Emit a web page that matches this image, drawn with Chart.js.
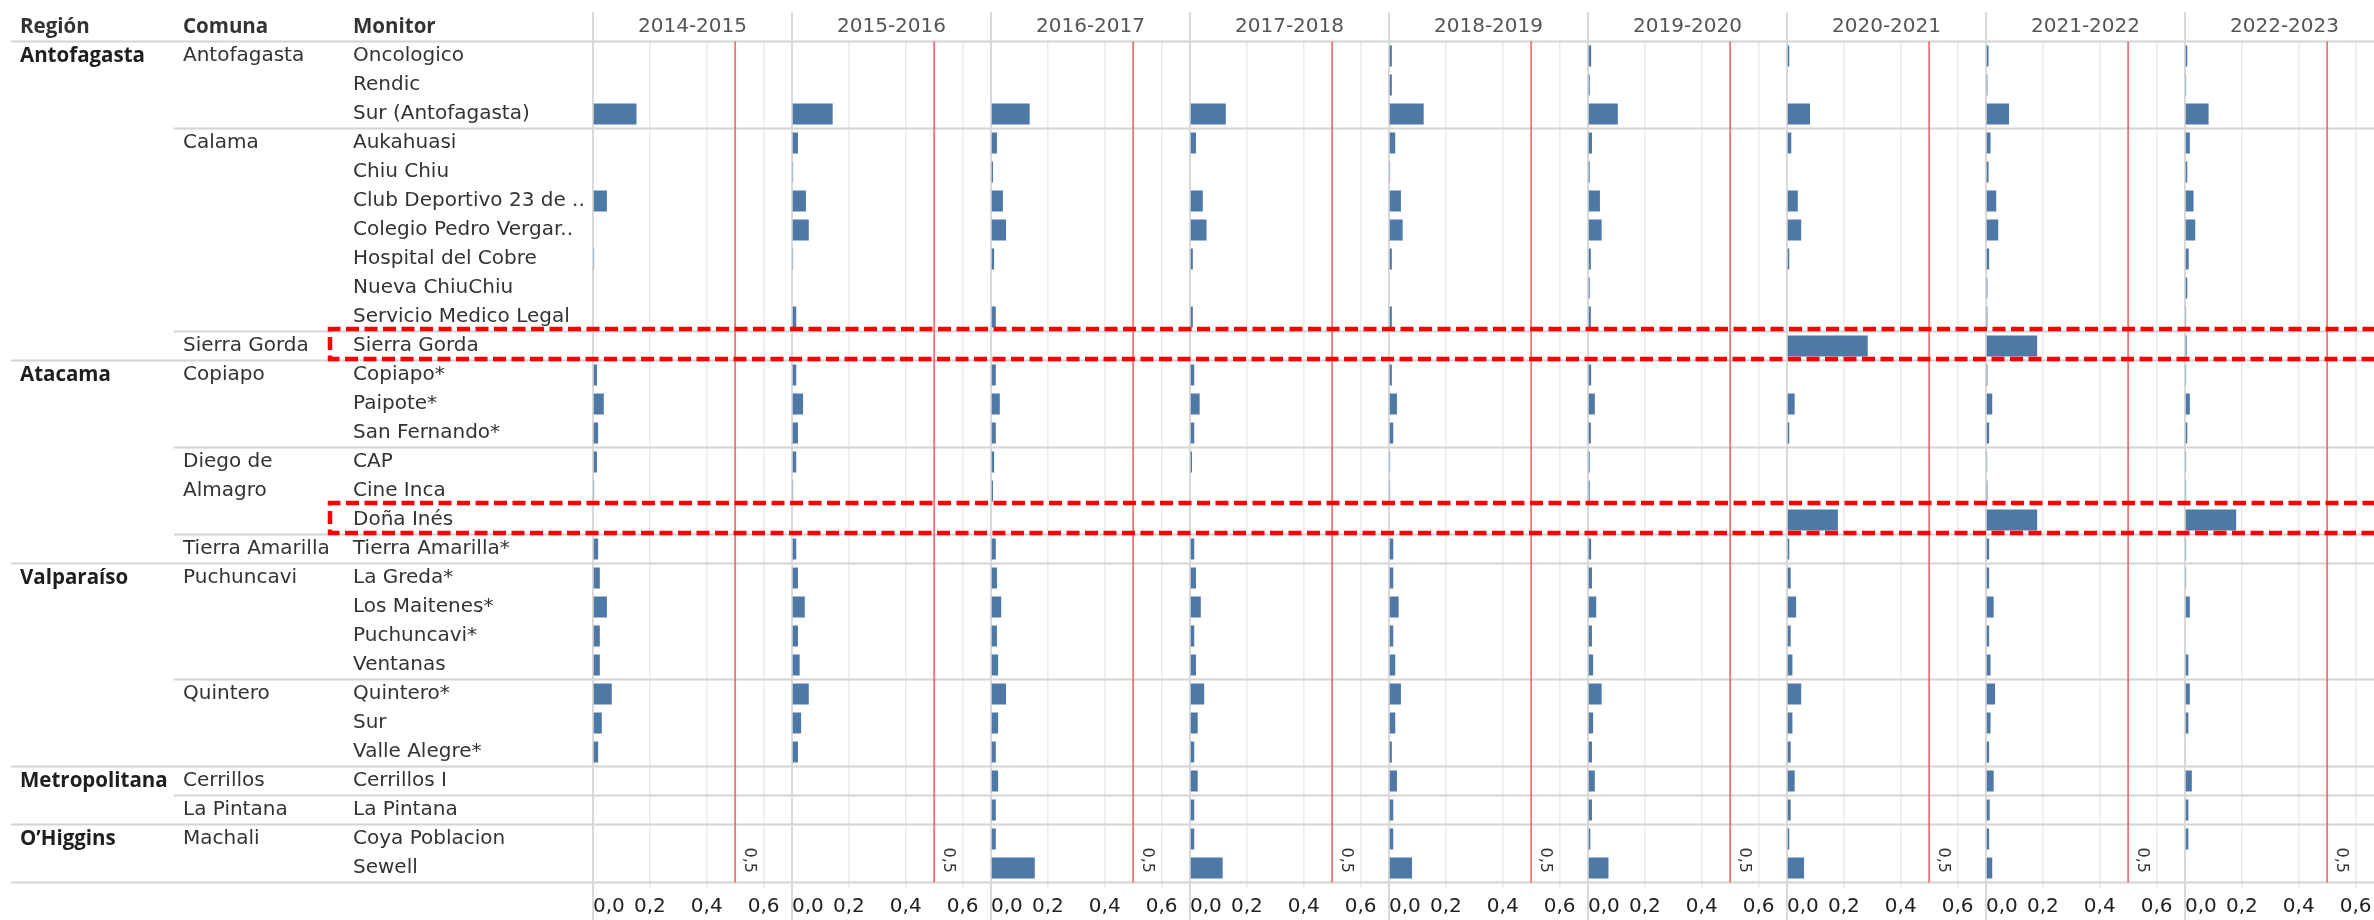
<!DOCTYPE html>
<html>
<head>
<meta charset="utf-8">
<script src="https://cdn.jsdelivr.net/npm/chart.js@4.4.1/dist/chart.umd.min.js"></script>
<style>
  html, body { margin: 0; padding: 0; background: #fff; overflow: hidden; }
  #wrap { position: relative; width: 2384px; height: 920px; }
</style>
</head>
<body>
<div id="wrap"><canvas id="chart" width="2384" height="920"></canvas></div>
<script>
// columnas de la tabla
const columnHeaders = ["Región", "Comuna", "Monitor"];
const years = ["2014-2015", "2015-2016", "2016-2017", "2017-2018", "2018-2019",
  "2019-2020", "2020-2021", "2021-2022", "2022-2023"];

const regions = [
  "Antofagasta", "Antofagasta", "Antofagasta", "Antofagasta", "Antofagasta", "Antofagasta",
  "Antofagasta", "Antofagasta", "Antofagasta", "Antofagasta", "Antofagasta",
  "Atacama", "Atacama", "Atacama", "Atacama", "Atacama", "Atacama", "Atacama",
  "Valparaíso", "Valparaíso", "Valparaíso", "Valparaíso", "Valparaíso", "Valparaíso", "Valparaíso",
  "Metropolitana", "Metropolitana",
  "O’Higgins", "O’Higgins"
];
const comunas = [
  "Antofagasta", "Antofagasta", "Antofagasta",
  "Calama", "Calama", "Calama", "Calama", "Calama", "Calama", "Calama",
  "Sierra Gorda",
  "Copiapo", "Copiapo", "Copiapo",
  "Diego de Almagro", "Diego de Almagro", "Diego de Almagro",
  "Tierra Amarilla",
  "Puchuncavi", "Puchuncavi", "Puchuncavi", "Puchuncavi",
  "Quintero", "Quintero", "Quintero",
  "Cerrillos", "La Pintana",
  "Machali", "Machali"
];
const monitors = [
  "Oncologico", "Rendic", "Sur (Antofagasta)",
  "Aukahuasi", "Chiu Chiu", "Club Deportivo 23 de ..", "Colegio Pedro Vergar..",
  "Hospital del Cobre", "Nueva ChiuChiu", "Servicio Medico Legal",
  "Sierra Gorda",
  "Copiapo*", "Paipote*", "San Fernando*",
  "CAP", "Cine Inca", "Doña Inés",
  "Tierra Amarilla*",
  "La Greda*", "Los Maitenes*", "Puchuncavi*", "Ventanas",
  "Quintero*", "Sur", "Valle Alegre*",
  "Cerrillos I", "La Pintana",
  "Coya Poblacion", "Sewell"
];

// valores por temporada (mismo orden que monitors)
const v2014 = [null, null, 0.153, null, null, 0.049, null, 0.004, null, null, null,
  0.014, 0.038, 0.018, 0.014, 0.004, null, 0.018,
  0.024, 0.049, 0.024, 0.024, 0.066, 0.031, 0.018, null, null, null, null];
const v2015 = [null, null, 0.143, 0.021, 0.004, 0.049, 0.059, 0.004, null, 0.015, null,
  0.015, 0.039, 0.021, 0.015, 0.004, null, 0.015,
  0.021, 0.045, 0.021, 0.027, 0.059, 0.032, 0.021, null, null, null, null];
const v2016 = [null, null, 0.136, 0.021, 0.007, 0.042, 0.053, 0.011, null, 0.017, null,
  0.017, 0.031, 0.017, 0.011, 0.007, null, 0.017,
  0.021, 0.036, 0.021, 0.025, 0.053, 0.025, 0.017, 0.025, 0.017, 0.017, 0.154];
const v2017 = [null, null, 0.126, 0.021, null, 0.045, 0.058, 0.010, null, 0.010, null,
  0.015, 0.034, 0.015, 0.007, null, null, 0.015,
  0.021, 0.038, 0.015, 0.021, 0.050, 0.027, 0.015, 0.027, 0.015, 0.015, 0.115];
const v2018 = [0.010, 0.010, 0.122, 0.022, 0.004, 0.042, 0.048, 0.010, null, 0.010, null,
  0.010, 0.028, 0.015, 0.004, 0.004, null, 0.015,
  0.015, 0.034, 0.015, 0.022, 0.042, 0.022, 0.010, 0.028, 0.015, 0.015, 0.081];
const v2019 = [0.011, 0.006, 0.105, 0.014, 0.006, 0.042, 0.048, 0.010, 0.006, 0.010, null,
  0.011, 0.024, 0.010, 0.006, 0.006, null, 0.011,
  0.014, 0.029, 0.014, 0.018, 0.048, 0.018, 0.014, 0.024, 0.014, 0.008, 0.072];
const v2020 = [0.008, null, 0.081, 0.015, null, 0.038, 0.050, 0.008, null, null, 0.284,
  null, 0.027, 0.008, null, null, 0.179, 0.008,
  0.013, 0.032, 0.013, 0.019, 0.050, 0.019, 0.013, 0.027, 0.013, 0.008, 0.060];
const v2021 = [0.009, 0.005, 0.081, 0.016, 0.009, 0.036, 0.043, 0.011, 0.005, 0.005, 0.180,
  0.005, 0.022, 0.011, 0.004, 0.005, 0.180, 0.011,
  0.011, 0.027, 0.011, 0.016, 0.032, 0.016, 0.011, 0.027, 0.013, 0.011, 0.022];
const v2022 = [0.008, 0.004, 0.083, 0.017, 0.008, 0.030, 0.036, 0.013, 0.008, 0.004, 0.006,
  0.004, 0.017, 0.008, 0.004, 0.004, 0.180, 0.004,
  0.004, 0.017, 0.003, 0.012, 0.017, 0.012, 0.003, 0.024, 0.012, 0.012, 0.003];
const seasonValues = [v2014, v2015, v2016, v2017, v2018, v2019, v2020, v2021, v2022];

const tickValues = [0, 0.2, 0.4, 0.6];
const tickLabels = ["0,0", "0,2", "0,4", "0,6"];
const axisMax = 0.7;
const refValue = 0.5;
const refLabel = "0,5";
const highlighted = ["Sierra Gorda", "Doña Inés"];

const FONT = "DejaVu Sans";
const BOLD = "bold 20.5px 'Open Sans'";
const lineGray = "#d4d4d4";

// ejes x, uno por temporada, apilados lado a lado
const xScales = {};
years.forEach((yr, i) => {
  xScales["x" + i] = {
    type: "linear",
    position: "bottom",
    stack: "seasons",
    stackWeight: 1,
    min: 0,
    max: axisMax,
    afterBuildTicks: (s) => {
      s.ticks = tickValues.concat([axisMax]).map((v) => ({ value: v }));
    },
    afterFit: (s) => {
      s.height = 37.5;
      s.paddingLeft = 0;
      s.paddingRight = 0;
    },
    grid: {
      color: (c) => (c.tick && c.tick.value > 0 && c.tick.value < axisMax ? "#ebebeb" : "rgba(0,0,0,0)"),
      lineWidth: 1.5,
      tickLength: 6,
    },
    border: { display: false },
    ticks: {
      align: "inner",
      padding: 6.5,
      autoSkip: false,
      maxRotation: 0,
      color: "#222",
      font: { family: FONT, size: 20 },
      callback: (v) => {
        const k = tickValues.findIndex((t) => Math.abs(t - v) < 1e-9);
        return k >= 0 ? tickLabels[k] : "";
      },
    },
  };
});

const framePlugin = {
  id: "frame",
  beforeDatasetsDraw(chart) {
    const { ctx, chartArea, scales } = chart;
    const y = scales.y;
    const half = (y.getPixelForValue(1) - y.getPixelForValue(0)) / 2;
    const W = chart.width;
    ctx.save();
    ctx.lineWidth = 2;
    ctx.strokeStyle = lineGray;
    const hline = (x0, yy) => {
      ctx.beginPath();
      ctx.moveTo(x0, yy);
      ctx.lineTo(W, yy);
      ctx.stroke();
    };
    hline(11, chartArea.top);
    for (let i = 1; i <= monitors.length; i++) {
      const yy = y.getPixelForValue(i - 1) + half;
      if (i === monitors.length || regions[i] !== regions[i - 1]) hline(11, yy);
      else if (comunas[i] !== comunas[i - 1]) hline(174, yy);
    }
    years.forEach((yr, i) => {
      const xs = scales["x" + i];
      const x0 = xs.getPixelForValue(0);
      ctx.strokeStyle = "#d9d9d9";
      ctx.lineWidth = 2;
      ctx.beginPath();
      ctx.moveTo(x0, 12);
      ctx.lineTo(x0, chart.height);
      ctx.stroke();

      const xr = xs.getPixelForValue(refValue);
      ctx.strokeStyle = "rgba(230, 85, 85, 0.8)";
      ctx.lineWidth = 1.8;
      ctx.beginPath();
      ctx.moveTo(xr, chartArea.top);
      ctx.lineTo(xr, chartArea.bottom);
      ctx.stroke();
    });
    ctx.restore();
  },
  afterDraw(chart) {
    const { ctx, chartArea, scales } = chart;
    const y = scales.y;
    const half = (y.getPixelForValue(1) - y.getPixelForValue(0)) / 2;
    const colX = [20, 183, 353];
    ctx.save();
    ctx.textBaseline = "middle";
    ctx.textAlign = "left";

    // encabezados
    ctx.font = BOLD;
    ctx.fillStyle = "#333";
    columnHeaders.forEach((h, k) => ctx.fillText(h, colX[k], 27));
    ctx.font = "20px " + FONT;
    ctx.fillStyle = "#555";
    ctx.textAlign = "center";
    years.forEach((yr, i) => {
      const xs = scales["x" + i];
      ctx.fillText(yr, (xs.left + xs.right) / 2, 27);
    });
    ctx.textAlign = "left";

    // filas
    monitors.forEach((m, i) => {
      const yy = y.getPixelForValue(i);
      if (i === 0 || regions[i] !== regions[i - 1]) {
        ctx.font = BOLD;
        ctx.fillStyle = "#1e1e1e";
        ctx.fillText(regions[i], colX[0], yy);
      }
      ctx.font = "20px " + FONT;
      ctx.fillStyle = "#333";
      if (i === 0 || comunas[i] !== comunas[i - 1]) {
        // partir el nombre si no cabe en la columna
        const words = comunas[i].split(" ");
        const lines = [];
        let cur = "";
        words.forEach((w) => {
          const t = cur ? cur + " " + w : w;
          if (cur && ctx.measureText(t).width > 160) {
            lines.push(cur);
            cur = w;
          } else cur = t;
        });
        lines.push(cur);
        lines.forEach((ln, k) => ctx.fillText(ln, colX[1], y.getPixelForValue(i + k)));
      }
      ctx.fillText(m, colX[2], yy);
    });

    // etiqueta de la linea de referencia
    ctx.font = "16px " + FONT;
    ctx.fillStyle = "#333";
    ctx.textBaseline = "alphabetic";
    years.forEach((yr, i) => {
      const xr = scales["x" + i].getPixelForValue(refValue);
      ctx.save();
      ctx.translate(xr + 9.5, chartArea.bottom - 35);
      ctx.rotate(Math.PI / 2);
      ctx.fillText(refLabel, 0, 0);
      ctx.restore();
    });

    // recuadros rojos
    ctx.strokeStyle = "#ff0000";
    ctx.lineWidth = 4.5;
    ctx.setLineDash([13, 5.5]);
    highlighted.forEach((name) => {
      const i = monitors.indexOf(name);
      const yc = y.getPixelForValue(i);
      const top = yc - half - 2.5;
      const bottom = yc + half - 1.5;
      ctx.beginPath();
      ctx.moveTo(chart.width + 10, top);
      ctx.lineTo(330, top);
      ctx.lineTo(330, bottom);
      ctx.lineTo(chart.width + 10, bottom);
      ctx.stroke();
    });
    ctx.restore();
  },
};

new Chart(document.getElementById("chart"), {
  type: "bar",
  data: {
    labels: monitors,
    datasets: years.map((yr, i) => ({
      label: yr,
      data: seasonValues[i],
      xAxisID: "x" + i,
      yAxisID: "y",
      grouped: false,
      backgroundColor: "#4e79a7",
      borderWidth: 0,
      barPercentage: 0.72,
      categoryPercentage: 1,
    })),
  },
  options: {
    indexAxis: "y",
    responsive: false,
    animation: false,
    layout: { padding: { top: 41.5, left: 0, right: 0, bottom: 0 } },
    plugins: { legend: { display: false }, tooltip: { enabled: false } },
    scales: {
      y: {
        type: "category",
        offset: true,
        grid: { display: false },
        border: { display: false },
        ticks: { display: false },
        afterFit: (s) => {
          s.width = 593;
          s.paddingTop = 0;
          s.paddingBottom = 0;
        },
      },
      ...xScales,
    },
  },
  plugins: [framePlugin],
});
</script>
</body>
</html>
